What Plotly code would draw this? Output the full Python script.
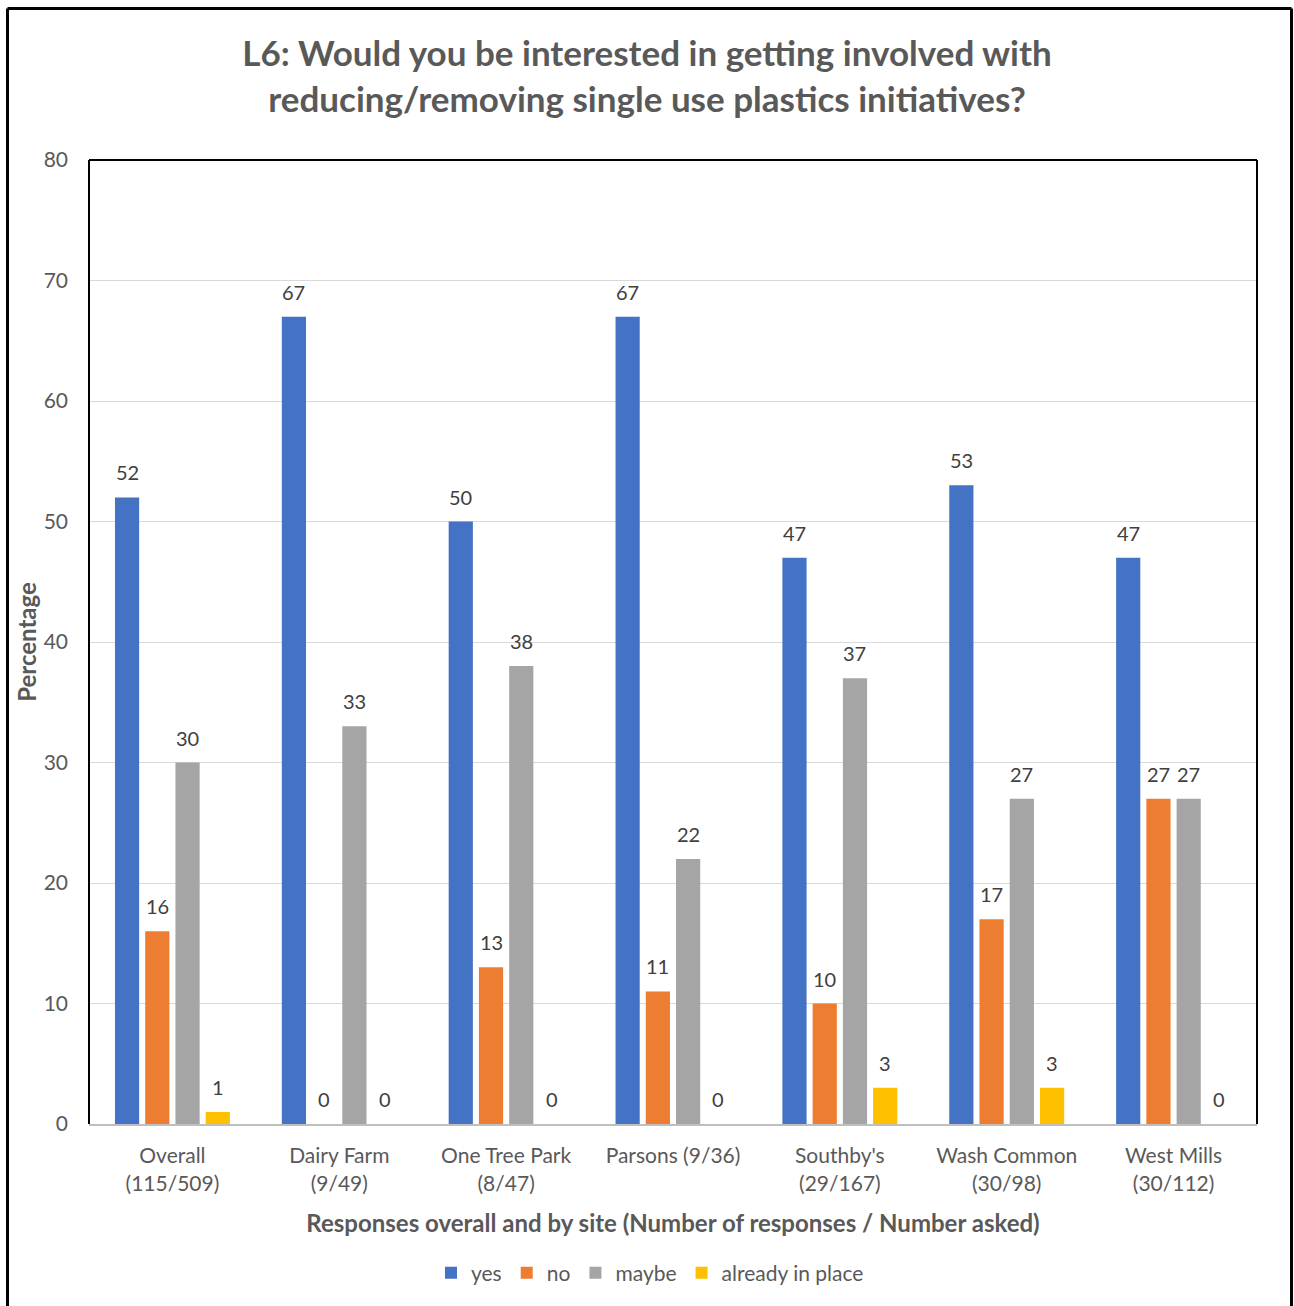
import plotly.graph_objects as go

# Survey responses by site, percentage of respondents per answer
categories = [
    "Overall<br>(115/509)",
    "Dairy Farm<br>(9/49)",
    "One Tree Park<br>(8/47)",
    "Parsons (9/36)",
    "Southby's<br>(29/167)",
    "Wash Common<br>(30/98)",
    "West Mills<br>(30/112)",
]
series_names = ["yes", "no", "maybe", "already in place"]
yes_vals = [52, 67, 50, 67, 47, 53, 47]
no_vals = [16, 0, 13, 11, 10, 17, 27]
maybe_vals = [30, 33, 38, 22, 37, 27, 27]
already_vals = [1, 0, 0, 0, 3, 3, 0]
y_ticks = [0, 10, 20, 30, 40, 50, 60, 70, 80]

all_series = [yes_vals, no_vals, maybe_vals, already_vals]
colors = ["#4472C4", "#ED7D31", "#A5A5A5", "#FFC000"]

FONT = "Lato"
TXT = "#595959"

W, H = 1294, 1306
M_L, M_R, M_T, M_B = 89, 37, 160, 182
BARGAP = 0.275
GROUPGAP = 0.2

fig = go.Figure()
for name, vals, col in zip(series_names, all_series, colors):
    fig.add_trace(go.Bar(
        name=name,
        x=list(range(len(categories))),
        y=vals,
        marker=dict(color=col, line=dict(width=0)),
    ))

# value labels above each bar, positioned from the grouped-bar layout
n = len(series_names)
slot = (1 - BARGAP) / n
annotations = []
for j, vals in enumerate(all_series):
    for i, v in enumerate(vals):
        annotations.append(dict(
            x=i + (j - (n - 1) / 2) * slot, y=v, xref="x", yref="y",
            text=str(v), showarrow=False, yshift=25,
            font=dict(family=FONT, size=20, color="#404040"),
        ))

# plot-area frame (left, top, right) and outer chart border
pw = W - M_L - M_R
ph = H - M_T - M_B
def px(x):
    return (x - M_L) / pw
def py(y):
    return (H - M_B - y) / ph

shapes = [
    dict(type="line", xref="paper", yref="paper", x0=0, x1=0, y0=0, y1=1,
         line=dict(color="black", width=2)),
    dict(type="line", xref="paper", yref="paper", x0=0, x1=1, y0=1, y1=1,
         line=dict(color="black", width=2)),
    dict(type="line", xref="paper", yref="paper", x0=1, x1=1, y0=0, y1=1,
         line=dict(color="black", width=2)),
    dict(type="line", xref="paper", yref="paper", x0=px(7.5), x1=px(7.5), y0=py(H + 5), y1=py(8.5),
         line=dict(color="black", width=3)),
    dict(type="line", xref="paper", yref="paper", x0=px(7.5), x1=px(1291.5), y0=py(8.5), y1=py(8.5),
         line=dict(color="black", width=3)),
    dict(type="line", xref="paper", yref="paper", x0=px(1291.5), x1=px(1291.5), y0=py(H + 5), y1=py(8.5),
         line=dict(color="black", width=3)),
]

fig.update_layout(
    width=W, height=H,
    margin=dict(l=M_L, r=M_R, t=M_T, b=M_B),
    paper_bgcolor="white", plot_bgcolor="white",
    barmode="group", bargap=BARGAP, bargroupgap=GROUPGAP,
    font=dict(family=FONT, color=TXT, size=18),
    title=dict(
        text="<b>L6: Would you be interested in getting involved with<br>reducing/removing single use plastics initiatives?</b>",
        x=0.5, xref="container", xanchor="center",
        y=1 - 66 / H, yref="container", yanchor="middle",
        font=dict(family=FONT, size=35, color=TXT),
    ),
    xaxis=dict(
        tickmode="array", tickvals=list(range(len(categories))), ticktext=categories,
        range=[-0.5, len(categories) - 0.5],
        showline=True, linecolor="#BFBFBF", linewidth=2,
        showgrid=False, ticks="", zeroline=False,
        tickfont=dict(family=FONT, size=21, color=TXT),
        ticklabelstandoff=12,
        title=dict(text="<b>Responses overall and by site (Number of responses / Number asked)</b>",
                   font=dict(family=FONT, size=24, color=TXT), standoff=22),
    ),
    yaxis=dict(
        range=[0, 80], tickvals=y_ticks, ticktext=[str(t) for t in y_ticks],
        showgrid=True, gridcolor="#D9D9D9", gridwidth=1,
        showline=False, zeroline=False, ticks="",
        tickfont=dict(family=FONT, size=21, color=TXT),
        ticklabelstandoff=20,
        title=dict(text="<b>Percentage</b>", font=dict(family=FONT, size=24, color=TXT), standoff=0),
    ),
    legend=dict(
        orientation="h", x=px(650), xanchor="center",
        y=py(1273), yanchor="middle",
        font=dict(family=FONT, size=21, color=TXT),
        itemwidth=30, traceorder="normal",
    ),
    annotations=annotations,
    shapes=shapes,
)

fig.write_html("out.html")
